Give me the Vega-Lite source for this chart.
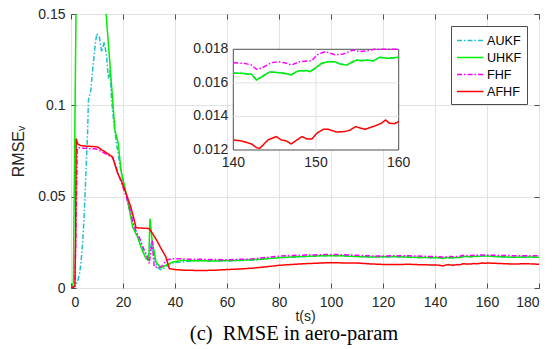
{
  "$schema": "https://vega.github.io/schema/vega-lite/v6.json",
  "width": 468,
  "height": 274,
  "autosize": "none",
  "padding": {"left": 71, "top": 14, "right": 18, "bottom": 61},
  "background": "white",
  "title": {"text": "(c)\u00a0 RMSE in aero-param", "orient": "bottom", "anchor": "middle", "font": "Liberation Serif", "fontSize": 20.5, "fontWeight": "normal", "color": "black", "offset": 1, "dx": -11},
  "config": {
    "view": {"stroke": "#4d4d4d", "strokeWidth": 1},
    "axis": {"labelFont": "Liberation Sans", "labelFontSize": 14, "labelColor": "#262626", "titleFont": "Liberation Sans, DejaVu Sans", "titleFontSize": 16, "titleFontWeight": "normal", "titleColor": "#262626", "domain": false, "tickColor": "#4d4d4d", "tickSize": -5, "gridColor": "#e2e2e2", "gridWidth": 1},
    "legend": {"orient": "top-right", "offset": 12, "title": null, "fillColor": "white", "strokeColor": "#4d4d4d", "padding": 5, "symbolType": "M-1,0H2.1", "symbolSize": 289, "symbolStrokeWidth": 1.5, "labelFont": "Liberation Sans", "labelFontSize": 12.6, "labelColor": "black", "labelOffset": 12, "rowPadding": 0, "cornerRadius": 0}
  },
  "datasets": {
    "d": [
      {"s":"AUKF","t":0,"v":0},{"s":"AUKF","t":1,"v":0.0005},{"s":"AUKF","t":2,"v":0.002},{"s":"AUKF","t":2.6,"v":0.004},{"s":"AUKF","t":3.3,"v":0.008},{"s":"AUKF","t":3.8,"v":0.0134},{"s":"AUKF","t":4.5,"v":0.025},{"s":"AUKF","t":5.1,"v":0.0407},{"s":"AUKF","t":5.8,"v":0.065},{"s":"AUKF","t":6.4,"v":0.0863},{"s":"AUKF","t":6.7,"v":0.1027},{"s":"AUKF","t":7.6,"v":0.108},{"s":"AUKF","t":8.5,"v":0.122},{"s":"AUKF","t":9.3,"v":0.133},{"s":"AUKF","t":9.9,"v":0.1393},{"s":"AUKF","t":10.9,"v":0.1374},{"s":"AUKF","t":11.8,"v":0.1292},{"s":"AUKF","t":12.8,"v":0.1347},{"s":"AUKF","t":13.7,"v":0.1265},{"s":"AUKF","t":14.4,"v":0.1146},{"s":"AUKF","t":15,"v":0.1192},{"s":"AUKF","t":15.6,"v":0.103},{"s":"AUKF","t":16.5,"v":0.09},{"s":"AUKF","t":17.5,"v":0.079},{"s":"AUKF","t":18.5,"v":0.07},{"s":"AUKF","t":19.5,"v":0.062},{"s":"AUKF","t":20.5,"v":0.056},{"s":"AUKF","t":21.5,"v":0.049},{"s":"AUKF","t":22.5,"v":0.043},{"s":"AUKF","t":23.5,"v":0.037},{"s":"AUKF","t":24.5,"v":0.033},{"s":"AUKF","t":25.5,"v":0.029},{"s":"AUKF","t":26.5,"v":0.026},{"s":"AUKF","t":27.5,"v":0.022},{"s":"AUKF","t":28.5,"v":0.019},{"s":"AUKF","t":29.5,"v":0.017},{"s":"AUKF","t":30.3,"v":0.02},{"s":"AUKF","t":31,"v":0.025},{"s":"AUKF","t":31.8,"v":0.019},{"s":"AUKF","t":32.5,"v":0.014},{"s":"AUKF","t":33.5,"v":0.011},{"s":"AUKF","t":34.5,"v":0.01},{"s":"AUKF","t":35.5,"v":0.0105},{"s":"AUKF","t":36.5,"v":0.0115},{"s":"AUKF","t":37.5,"v":0.0128},{"s":"AUKF","t":38.5,"v":0.0135},{"s":"AUKF","t":40,"v":0.014},{"s":"AUKF","t":42,"v":0.0142},{"s":"AUKF","t":45,"v":0.0146},{"s":"AUKF","t":50,"v":0.015},{"s":"AUKF","t":55,"v":0.0149},{"s":"AUKF","t":60,"v":0.0148},{"s":"AUKF","t":65,"v":0.015},{"s":"AUKF","t":70,"v":0.0153},{"s":"AUKF","t":75,"v":0.016},{"s":"AUKF","t":80,"v":0.0166},{"s":"AUKF","t":85,"v":0.0169},{"s":"AUKF","t":90,"v":0.0172},{"s":"AUKF","t":95,"v":0.0175},{"s":"AUKF","t":100,"v":0.0178},{"s":"AUKF","t":105,"v":0.0176},{"s":"AUKF","t":110,"v":0.0174},{"s":"AUKF","t":115,"v":0.0171},{"s":"AUKF","t":120,"v":0.017},{"s":"AUKF","t":125,"v":0.0171},{"s":"AUKF","t":130,"v":0.0168},{"s":"AUKF","t":135,"v":0.0167},
      {"s":"AUKF","t":140,"v":0.01659},{"s":"AUKF","t":141,"v":0.01656},{"s":"AUKF","t":142.2,"v":0.01652},{"s":"AUKF","t":142.8,"v":0.01619},{"s":"AUKF","t":143.6,"v":0.01642},{"s":"AUKF","t":144.4,"v":0.01664},{"s":"AUKF","t":145.4,"v":0.01662},{"s":"AUKF","t":146.2,"v":0.01656},{"s":"AUKF","t":147,"v":0.01649},{"s":"AUKF","t":147.8,"v":0.0167},{"s":"AUKF","t":148.9,"v":0.01674},{"s":"AUKF","t":149.3,"v":0.01668},{"s":"AUKF","t":149.9,"v":0.01688},{"s":"AUKF","t":150.7,"v":0.01716},{"s":"AUKF","t":151.5,"v":0.01727},{"s":"AUKF","t":152.3,"v":0.01725},{"s":"AUKF","t":152.9,"v":0.01713},{"s":"AUKF","t":153.7,"v":0.01707},{"s":"AUKF","t":154.5,"v":0.01728},{"s":"AUKF","t":154.9,"v":0.01737},{"s":"AUKF","t":155.5,"v":0.01733},{"s":"AUKF","t":156.3,"v":0.01737},{"s":"AUKF","t":156.9,"v":0.01732},{"s":"AUKF","t":157.7,"v":0.01753},{"s":"AUKF","t":158.7,"v":0.01747},{"s":"AUKF","t":160,"v":0.01753},
      {"s":"AUKF","t":165,"v":0.0171},{"s":"AUKF","t":170,"v":0.0169},{"s":"AUKF","t":175,"v":0.017},{"s":"AUKF","t":180,"v":0.0168},

      {"s":"UHKF","t":0,"v":0},{"s":"UHKF","t":0.5,"v":0.001},{"s":"UHKF","t":0.9,"v":0.003},{"s":"UHKF","t":2.0,"v":0.1617},{"s":"UHKF","t":8,"v":0.25},{"s":"UHKF","t":13,"v":0.1594},{"s":"UHKF","t":13.5,"v":0.15},{"s":"UHKF","t":15,"v":0.122},{"s":"UHKF","t":16.9,"v":0.0863},{"s":"UHKF","t":18.2,"v":0.079},{"s":"UHKF","t":19.2,"v":0.0644},{"s":"UHKF","t":20.1,"v":0.059},{"s":"UHKF","t":21.8,"v":0.048},{"s":"UHKF","t":23.7,"v":0.0334},{"s":"UHKF","t":25.6,"v":0.0279},{"s":"UHKF","t":27,"v":0.022},{"s":"UHKF","t":28.8,"v":0.0161},{"s":"UHKF","t":29.9,"v":0.0152},{"s":"UHKF","t":30.2,"v":0.03},{"s":"UHKF","t":30.4,"v":0.038},{"s":"UHKF","t":31.2,"v":0.026},{"s":"UHKF","t":32.7,"v":0.0142},{"s":"UHKF","t":34.6,"v":0.011},{"s":"UHKF","t":36.5,"v":0.0124},{"s":"UHKF","t":39.1,"v":0.0142},{"s":"UHKF","t":43,"v":0.0152},{"s":"UHKF","t":45,"v":0.015},{"s":"UHKF","t":50,"v":0.0149},{"s":"UHKF","t":55,"v":0.0148},{"s":"UHKF","t":60,"v":0.015},{"s":"UHKF","t":65,"v":0.0152},{"s":"UHKF","t":70,"v":0.0155},{"s":"UHKF","t":75,"v":0.016},{"s":"UHKF","t":80,"v":0.0166},{"s":"UHKF","t":85,"v":0.017},{"s":"UHKF","t":90,"v":0.0173},{"s":"UHKF","t":95,"v":0.0176},{"s":"UHKF","t":100,"v":0.0177},{"s":"UHKF","t":105,"v":0.0176},{"s":"UHKF","t":110,"v":0.0172},{"s":"UHKF","t":115,"v":0.017},{"s":"UHKF","t":120,"v":0.0171},{"s":"UHKF","t":125,"v":0.0172},{"s":"UHKF","t":130,"v":0.0169},{"s":"UHKF","t":135,"v":0.0167},
      {"s":"UHKF","t":140,"v":0.01657},{"s":"UHKF","t":141,"v":0.01657},{"s":"UHKF","t":142.2,"v":0.01651},{"s":"UHKF","t":142.8,"v":0.01617},{"s":"UHKF","t":143.6,"v":0.01641},{"s":"UHKF","t":144.4,"v":0.01665},{"s":"UHKF","t":145.4,"v":0.01661},{"s":"UHKF","t":146.2,"v":0.01657},{"s":"UHKF","t":147,"v":0.01647},{"s":"UHKF","t":147.8,"v":0.01671},{"s":"UHKF","t":148.9,"v":0.01673},{"s":"UHKF","t":149.3,"v":0.01667},{"s":"UHKF","t":149.9,"v":0.01687},{"s":"UHKF","t":150.7,"v":0.01717},{"s":"UHKF","t":151.5,"v":0.01726},{"s":"UHKF","t":152.3,"v":0.01726},{"s":"UHKF","t":152.9,"v":0.01712},{"s":"UHKF","t":153.7,"v":0.01706},{"s":"UHKF","t":154.5,"v":0.01726},{"s":"UHKF","t":154.9,"v":0.01736},{"s":"UHKF","t":155.5,"v":0.01732},{"s":"UHKF","t":156.3,"v":0.01736},{"s":"UHKF","t":156.9,"v":0.0173},{"s":"UHKF","t":157.7,"v":0.01752},{"s":"UHKF","t":158.7,"v":0.01746},{"s":"UHKF","t":160,"v":0.01752},
      {"s":"UHKF","t":165,"v":0.0171},{"s":"UHKF","t":170,"v":0.0168},{"s":"UHKF","t":175,"v":0.017},{"s":"UHKF","t":180,"v":0.0168},

      {"s":"FHF","t":0,"v":0},{"s":"FHF","t":1.5,"v":0.001},{"s":"FHF","t":2.0,"v":0.04},{"s":"FHF","t":2.4,"v":0.0763},{"s":"FHF","t":3,"v":0.0768},{"s":"FHF","t":5,"v":0.0765},{"s":"FHF","t":7,"v":0.0763},{"s":"FHF","t":9,"v":0.0762},{"s":"FHF","t":10.3,"v":0.0758},{"s":"FHF","t":12,"v":0.0745},{"s":"FHF","t":14,"v":0.073},{"s":"FHF","t":16,"v":0.0713},{"s":"FHF","t":17,"v":0.068},{"s":"FHF","t":18,"v":0.063},{"s":"FHF","t":19.3,"v":0.058},{"s":"FHF","t":20.5,"v":0.053},{"s":"FHF","t":21.5,"v":0.049},{"s":"FHF","t":22.5,"v":0.044},{"s":"FHF","t":23.7,"v":0.037},{"s":"FHF","t":25,"v":0.031},{"s":"FHF","t":26.5,"v":0.027},{"s":"FHF","t":27.5,"v":0.023},{"s":"FHF","t":28.8,"v":0.0188},{"s":"FHF","t":30.1,"v":0.0134},{"s":"FHF","t":31.2,"v":0.026},{"s":"FHF","t":32,"v":0.0115},{"s":"FHF","t":34,"v":0.0113},{"s":"FHF","t":35.5,"v":0.0125},{"s":"FHF","t":36.5,"v":0.0152},{"s":"FHF","t":39.1,"v":0.0161},{"s":"FHF","t":42,"v":0.016},{"s":"FHF","t":45,"v":0.0158},{"s":"FHF","t":50,"v":0.0157},{"s":"FHF","t":55,"v":0.0156},{"s":"FHF","t":60,"v":0.0155},{"s":"FHF","t":65,"v":0.0157},{"s":"FHF","t":70,"v":0.016},{"s":"FHF","t":75,"v":0.0167},{"s":"FHF","t":80,"v":0.0174},{"s":"FHF","t":85,"v":0.0178},{"s":"FHF","t":90,"v":0.018},{"s":"FHF","t":95,"v":0.0182},{"s":"FHF","t":100,"v":0.0184},{"s":"FHF","t":105,"v":0.0182},{"s":"FHF","t":110,"v":0.0179},{"s":"FHF","t":115,"v":0.0176},{"s":"FHF","t":120,"v":0.0175},{"s":"FHF","t":125,"v":0.0177},{"s":"FHF","t":130,"v":0.0176},{"s":"FHF","t":135,"v":0.0174},
      {"s":"FHF","t":140,"v":0.0172},{"s":"FHF","t":141.4,"v":0.01716},{"s":"FHF","t":142.2,"v":0.01706},{"s":"FHF","t":142.8,"v":0.01681},{"s":"FHF","t":143.4,"v":0.01687},{"s":"FHF","t":144.6,"v":0.0172},{"s":"FHF","t":145.4,"v":0.01726},{"s":"FHF","t":146.2,"v":0.0172},{"s":"FHF","t":147,"v":0.01706},{"s":"FHF","t":148,"v":0.01726},{"s":"FHF","t":149.5,"v":0.01732},{"s":"FHF","t":150.1,"v":0.01766},{"s":"FHF","t":151.1,"v":0.01786},{"s":"FHF","t":152.3,"v":0.01768},{"s":"FHF","t":153.3,"v":0.01772},{"s":"FHF","t":154.5,"v":0.01796},{"s":"FHF","t":155.3,"v":0.01786},{"s":"FHF","t":156.1,"v":0.0179},{"s":"FHF","t":157.1,"v":0.018},{"s":"FHF","t":158.5,"v":0.018},{"s":"FHF","t":160,"v":0.018},
      {"s":"FHF","t":165,"v":0.0178},{"s":"FHF","t":170,"v":0.0177},{"s":"FHF","t":175,"v":0.0176},{"s":"FHF","t":180,"v":0.0176},

      {"s":"AFHF","t":0,"v":0},{"s":"AFHF","t":1.5,"v":0.001},{"s":"AFHF","t":1.8,"v":0.03},{"s":"AFHF","t":2.0,"v":0.0818},{"s":"AFHF","t":2.5,"v":0.079},{"s":"AFHF","t":3.7,"v":0.078},{"s":"AFHF","t":6,"v":0.0776},{"s":"AFHF","t":8,"v":0.0775},{"s":"AFHF","t":10.3,"v":0.0772},{"s":"AFHF","t":12,"v":0.0755},{"s":"AFHF","t":14.1,"v":0.0736},{"s":"AFHF","t":16,"v":0.0717},{"s":"AFHF","t":17,"v":0.067},{"s":"AFHF","t":18,"v":0.0626},{"s":"AFHF","t":19.3,"v":0.059},{"s":"AFHF","t":20.2,"v":0.0555},{"s":"AFHF","t":21.2,"v":0.0517},{"s":"AFHF","t":23,"v":0.0443},{"s":"AFHF","t":24,"v":0.039},{"s":"AFHF","t":25,"v":0.033},{"s":"AFHF","t":27,"v":0.0328},{"s":"AFHF","t":29,"v":0.0327},{"s":"AFHF","t":30.1,"v":0.0325},{"s":"AFHF","t":31.5,"v":0.0295},{"s":"AFHF","t":33,"v":0.026},{"s":"AFHF","t":34.5,"v":0.022},{"s":"AFHF","t":36.5,"v":0.017},{"s":"AFHF","t":37.8,"v":0.0106},{"s":"AFHF","t":40,"v":0.0101},{"s":"AFHF","t":44,"v":0.0097},{"s":"AFHF","t":50,"v":0.0096},{"s":"AFHF","t":55,"v":0.0097},{"s":"AFHF","t":60,"v":0.0101},{"s":"AFHF","t":65,"v":0.0104},{"s":"AFHF","t":70,"v":0.0109},{"s":"AFHF","t":75,"v":0.0116},{"s":"AFHF","t":80,"v":0.0124},{"s":"AFHF","t":85,"v":0.0129},{"s":"AFHF","t":90,"v":0.0133},{"s":"AFHF","t":95,"v":0.0136},{"s":"AFHF","t":100,"v":0.0139},{"s":"AFHF","t":105,"v":0.0137},{"s":"AFHF","t":110,"v":0.0137},{"s":"AFHF","t":115,"v":0.0132},{"s":"AFHF","t":120,"v":0.0129},{"s":"AFHF","t":125,"v":0.0128},{"s":"AFHF","t":130,"v":0.013},{"s":"AFHF","t":135,"v":0.0127},
      {"s":"AFHF","t":140,"v":0.0126},{"s":"AFHF","t":141,"v":0.01254},{"s":"AFHF","t":142.2,"v":0.01236},{"s":"AFHF","t":142.8,"v":0.01214},{"s":"AFHF","t":143.2,"v":0.0121},{"s":"AFHF","t":144.2,"v":0.0126},{"s":"AFHF","t":145.2,"v":0.0128},{"s":"AFHF","t":145.8,"v":0.0126},{"s":"AFHF","t":146.4,"v":0.01254},{"s":"AFHF","t":147,"v":0.01236},{"s":"AFHF","t":148.3,"v":0.0128},{"s":"AFHF","t":148.9,"v":0.01266},{"s":"AFHF","t":149.5,"v":0.01266},{"s":"AFHF","t":150.1,"v":0.013},{"s":"AFHF","t":150.9,"v":0.01323},{"s":"AFHF","t":151.5,"v":0.01323},{"s":"AFHF","t":152.5,"v":0.01307},{"s":"AFHF","t":153.5,"v":0.0131},{"s":"AFHF","t":154.1,"v":0.01318},{"s":"AFHF","t":154.8,"v":0.01339},{"s":"AFHF","t":155.9,"v":0.01323},{"s":"AFHF","t":157.1,"v":0.01343},{"s":"AFHF","t":157.9,"v":0.01359},{"s":"AFHF","t":158.4,"v":0.01379},{"s":"AFHF","t":158.9,"v":0.01359},{"s":"AFHF","t":159.5,"v":0.01357},{"s":"AFHF","t":160,"v":0.0137},
      {"s":"AFHF","t":165,"v":0.0134},{"s":"AFHF","t":170,"v":0.0131},{"s":"AFHF","t":175,"v":0.0133},{"s":"AFHF","t":180,"v":0.013}
    ]
  },
  "resolve": {"scale": {"x": "independent", "y": "independent"}},
  "layer": [
    {
      "data": {"name": "d"},
      "mark": {"type": "line", "clip": true, "strokeWidth": 1.5},
      "encoding": {
        "x": {"field": "t", "type": "quantitative", "scale": {"domain": [0, 180], "nice": false, "zero": false}, "axis": {"values": [0,20,40,60,80,100,120,140,160,180], "title": "t(s)", "titleFontSize": 14, "grid": true, "labelPadding": 12, "titlePadding": 0}},
        "y": {"field": "v", "type": "quantitative", "scale": {"domain": [0, 0.15], "nice": false, "zero": false}, "axis": {"values": [0, 0.05, 0.1, 0.15], "format": ".2~f", "title": "RMSEᵥ", "grid": true, "labelPadding": 11, "titlePadding": 11}},
        "color": {"field": "s", "type": "nominal", "scale": {"domain": ["AUKF","UHKF","FHF","AFHF"], "range": ["#1fbfd0","#00ee00","#ff00ff","#ff0000"]}},
        "strokeDash": {"field": "s", "type": "nominal", "scale": {"domain": ["AUKF","UHKF","FHF","AFHF"], "range": [[5,2,1.5,2],[1,0],[5,2,1.5,2],[1,0]]}}
      }
    },
    {
      "data": {"values": [{"a": 0}]},
      "mark": {"type": "point", "opacity": 0},
      "encoding": {
        "x": {"datum": 0, "type": "quantitative", "scale": {"domain": [0, 180], "nice": false, "zero": false}, "axis": {"orient": "top", "values": [0,20,40,60,80,100,120,140,160,180], "labels": false, "grid": false, "title": null}},
        "y": {"datum": 0, "type": "quantitative", "scale": {"domain": [0, 0.15], "nice": false, "zero": false}, "axis": {"orient": "right", "values": [0, 0.05, 0.1, 0.15], "labels": false, "grid": false, "title": null}}
      }
    },
    {
      "data": {"values": [{"x1": 140, "x2": 160, "y1": 0.012, "y2": 0.018}]},
      "mark": {"type": "rect", "fill": "white", "stroke": "#4d4d4d", "strokeWidth": 1},
      "encoding": {
        "x": {"field": "x1", "type": "quantitative", "scale": {"domain": [120.375, 176.965], "nice": false, "zero": false}, "axis": null},
        "x2": {"field": "x2"},
        "y": {"field": "y1", "type": "quantitative", "scale": {"domain": [0.003777, 0.020103], "nice": false, "zero": false}, "axis": null},
        "y2": {"field": "y2"}
      }
    },
    {
      "data": {"values": [{"x": 150}]},
      "mark": {"type": "rule", "color": "#e2e2e2", "strokeWidth": 1},
      "encoding": {
        "x": {"field": "x", "type": "quantitative", "scale": {"domain": [120.375, 176.965], "nice": false, "zero": false}, "axis": null},
        "y": {"datum": 0.012, "type": "quantitative", "scale": {"domain": [0.003777, 0.020103], "nice": false, "zero": false}, "axis": null},
        "y2": {"datum": 0.018}
      }
    },
    {
      "data": {"values": [{"y": 0.014}, {"y": 0.016}]},
      "mark": {"type": "rule", "color": "#e2e2e2", "strokeWidth": 1},
      "encoding": {
        "y": {"field": "y", "type": "quantitative", "scale": {"domain": [0.003777, 0.020103], "nice": false, "zero": false}, "axis": null},
        "x": {"datum": 140, "type": "quantitative", "scale": {"domain": [120.375, 176.965], "nice": false, "zero": false}, "axis": null},
        "x2": {"datum": 160}
      }
    },
    {
      "data": {"name": "d"},
      "transform": [{"filter": "datum.t >= 140 && datum.t <= 160"}],
      "mark": {"type": "line", "strokeWidth": 1.5},
      "encoding": {
        "x": {"field": "t", "type": "quantitative", "scale": {"domain": [120.375, 176.965], "nice": false, "zero": false}, "axis": null},
        "y": {"field": "v", "type": "quantitative", "scale": {"domain": [0.003777, 0.020103], "nice": false, "zero": false}, "axis": null},
        "color": {"field": "s", "type": "nominal", "scale": {"domain": ["AUKF","UHKF","FHF","AFHF"], "range": ["#1fbfd0","#00ee00","#ff00ff","#ff0000"]}},
        "strokeDash": {"field": "s", "type": "nominal", "scale": {"domain": ["AUKF","UHKF","FHF","AFHF"], "range": [[5,2,1.5,2],[1,0],[5,2,1.5,2],[1,0]]}}
      }
    },
    {
      "data": {"values": [{"y": 0.012}, {"y": 0.014}, {"y": 0.016}, {"y": 0.018}]},
      "mark": {"type": "text", "align": "right", "baseline": "middle", "dx": -5, "font": "Liberation Sans", "fontSize": 14, "color": "#262626"},
      "encoding": {
        "y": {"field": "y", "type": "quantitative", "scale": {"domain": [0.003777, 0.020103], "nice": false, "zero": false}, "axis": null},
        "x": {"datum": 140, "type": "quantitative", "scale": {"domain": [120.375, 176.965], "nice": false, "zero": false}, "axis": null},
        "text": {"field": "y", "type": "quantitative", "format": ".3f"}
      }
    },
    {
      "data": {"values": [{"x": 140}, {"x": 150}, {"x": 160}]},
      "mark": {"type": "text", "align": "center", "baseline": "top", "dy": 6, "font": "Liberation Sans", "fontSize": 14, "color": "#262626"},
      "encoding": {
        "x": {"field": "x", "type": "quantitative", "scale": {"domain": [120.375, 176.965], "nice": false, "zero": false}, "axis": null},
        "y": {"datum": 0.012, "type": "quantitative", "scale": {"domain": [0.003777, 0.020103], "nice": false, "zero": false}, "axis": null},
        "text": {"field": "x", "type": "quantitative", "format": "d"}
      }
    }
  ]
}
